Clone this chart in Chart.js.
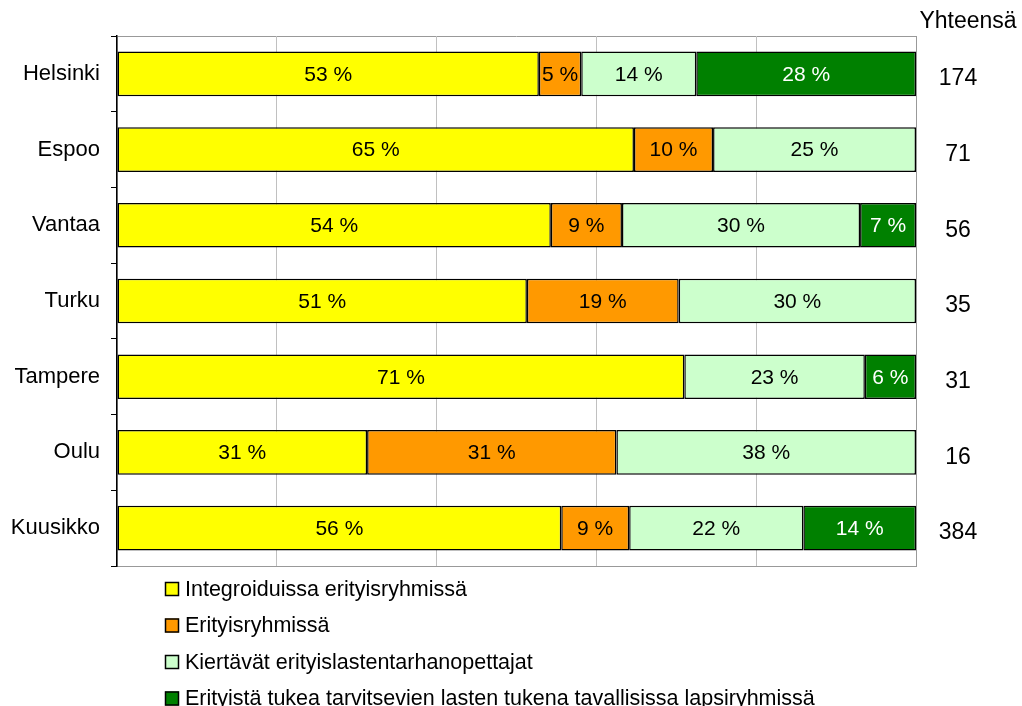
<!DOCTYPE html>
<html>
<head>
<meta charset="utf-8">
<script src="https://cdn.jsdelivr.net/npm/chart.js@4/dist/chart.umd.min.js"></script>
<style>
  html, body { margin: 0; padding: 0; background: #fff; }
  #wrap { width: 1022px; height: 706px; }
</style>
</head>
<body>
<div id="wrap"><canvas id="myChart" width="1022" height="706"></canvas></div>
<script>
const categories = ['Helsinki', 'Espoo', 'Vantaa', 'Turku', 'Tampere', 'Oulu', 'Kuusikko'];
const seriesNames = [
    'Integroiduissa erityisryhmissä',
    'Erityisryhmissä',
    'Kiertävät erityislastentarhanopettajat',
    'Erityistä tukea tarvitsevien lasten tukena tavallisissa lapsiryhmissä'
];
const integroidut = [52.8, 64.7, 54.3, 51.3, 71.0, 31.3, 55.6];
const erityisryhmat = [5.3, 9.9, 8.9, 19.0, 0, 31.2, 8.5];
const kiertavat = [14.4, 25.4, 29.8, 29.7, 22.6, 37.5, 21.8];
const tavalliset = [27.5, 0, 7.0, 0, 6.4, 0, 14.1];
const totals = [174, 71, 56, 35, 31, 16, 384];
const totalsTitle = 'Yhteensä';

const colors = ['#FFFF00', '#FF9900', '#CCFFCC', '#008000'];
const labelColors = ['#000', '#000', '#000', '#fff'];
const FONT = '"Liberation Sans", Arial, sans-serif';

const extras = {
    id: 'extras',
    beforeDraw(chart) {
        // top frame line
        const ctx = chart.ctx, a = chart.chartArea;
        ctx.save();
        ctx.strokeStyle = '#999';
        ctx.lineWidth = 1;
        ctx.beginPath();
        ctx.moveTo(a.left, Math.round(a.top) + 0.5);
        ctx.lineTo(a.right, Math.round(a.top) + 0.5);
        ctx.stroke();
        ctx.restore();
    },
    afterDatasetsDraw(chart) {
        const ctx = chart.ctx;
        ctx.save();
        ctx.font = '21px ' + FONT;
        ctx.textAlign = 'center';
        ctx.textBaseline = 'middle';
        chart.data.datasets.forEach((ds, i) => {
            const meta = chart.getDatasetMeta(i);
            meta.data.forEach((bar, j) => {
                const v = ds.data[j];
                if (!v) return;
                const p = bar.getProps(['x', 'y', 'base'], true);
                ctx.fillStyle = labelColors[i];
                ctx.fillText(Math.round(v) + ' %', (p.x + p.base) / 2, p.y + 1);
            });
        });

        // totals column
        const a = chart.chartArea;
        const yScale = chart.scales.y;
        ctx.fillStyle = '#000';
        ctx.font = '23px ' + FONT;
        ctx.fillText(totalsTitle, a.right + 52, 22);
        totals.forEach((t, j) => {
            ctx.fillText(String(t), a.right + 42, yScale.getPixelForValue(j) + 5);
        });

        // legend under the plot
        ctx.font = '21.5px ' + FONT;
        ctx.textAlign = 'left';
        seriesNames.forEach((name, i) => {
            const cy = a.bottom + 23 + i * 36.5;
            ctx.fillStyle = colors[i];
            ctx.fillRect(165, cy - 7, 14, 14);
            ctx.strokeStyle = '#000';
            ctx.lineWidth = 1.5;
            ctx.strokeRect(165.5, cy - 6.5, 13, 13);
            ctx.fillStyle = '#000';
            ctx.fillText(name, 185, cy + 1);
        });
        ctx.restore();
    }
};

const datasets = [integroidut, erityisryhmat, kiertavat, tavalliset].map((d, i) => ({
    label: seriesNames[i],
    data: d,
    backgroundColor: colors[i],
    borderColor: '#000',
    borderWidth: 1.5,
    borderSkipped: false,
    barPercentage: 0.59,
    categoryPercentage: 1
}));

new Chart(document.getElementById('myChart'), {
    type: 'bar',
    data: { labels: categories, datasets: datasets },
    plugins: [extras],
    options: {
        indexAxis: 'y',
        responsive: false,
        animation: false,
        devicePixelRatio: 1,
        layout: { padding: { left: 0, right: 106, top: 36, bottom: 140 } },
        plugins: {
            legend: { display: false },
            tooltip: { enabled: false }
        },
        scales: {
            x: {
                stacked: true,
                min: 0,
                max: 100,
                ticks: { display: false, stepSize: 20 },
                grid: {
                    drawTicks: false,
                    color: ctx => ctx.tick && ctx.tick.value === 100 ? '#999' : '#c0c0c0'
                },
                border: { color: '#999' },
                afterFit(scale) { scale.height = 0; }
            },
            y: {
                stacked: true,
                ticks: {
                    color: '#000',
                    padding: 11,
                    font: { family: FONT, size: 22 }
                },
                grid: {
                    drawOnChartArea: false,
                    drawTicks: true,
                    tickLength: 6,
                    color: '#000'
                },
                border: { color: '#000', width: 1.5 },
                afterFit(scale) { scale.width = 117; }
            }
        }
    }
});
</script>
</body>
</html>
